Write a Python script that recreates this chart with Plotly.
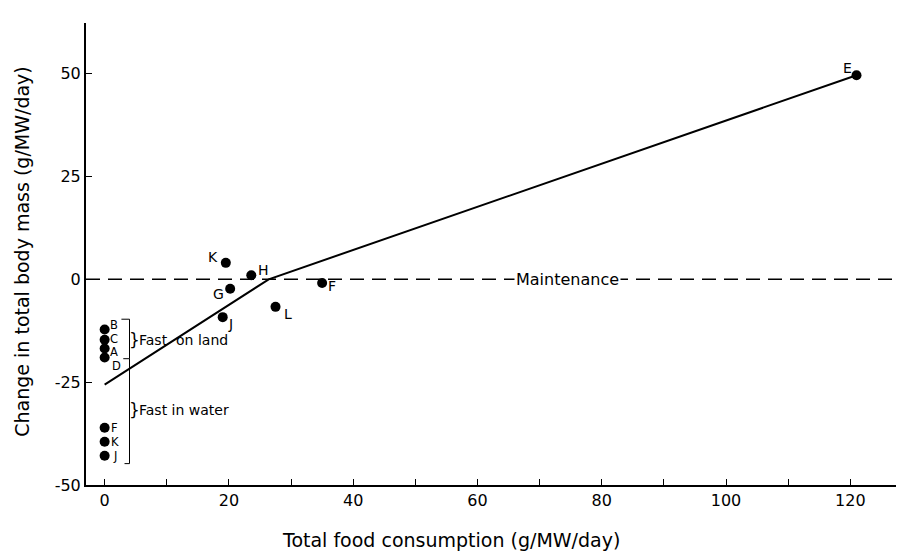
import plotly.graph_objects as go

# ---- data ----
fed_labels = ["E", "K", "H", "G", "J", "L", "F"]
fed_x = [121, 19.5, 23.6, 20.2, 19.0, 27.5, 35.0]
fed_y = [49.6, 4.0, 1.0, -2.3, -9.2, -6.7, -0.9]

fast_labels = ["B", "C", "A", "D", "F", "K", "J"]
fast_x = [0, 0, 0, 0, 0, 0, 0]
fast_y = [-12.2, -14.7, -16.8, -19.0, -36.1, -39.5, -42.9]

fit_x = [0, 26.4, 121]
fit_y = [-25.6, 0, 49.6]

x_ticks = [0, 20, 40, 60, 80, 100, 120]
y_ticks = [-50, -25, 0, 25, 50]
y_ticktext = ["-50", "-25", "0", "25", "50"]

FONT = "DejaVu Sans"

fig = go.Figure()
fig.add_trace(go.Scatter(x=fit_x, y=fit_y, mode="lines",
                         line=dict(color="black", width=2), hoverinfo="skip"))
fig.add_trace(go.Scatter(x=fed_x + fast_x, y=fed_y + fast_y, mode="markers",
                         marker=dict(color="black", size=10)))

# point labels (offsets in px)
fed_off = {"E": (-9, 7), "K": (-13, 6), "H": (12, 5), "G": (-12, -5),
           "J": (8, -7), "L": (12, -7), "F": (10, -3)}
for lab, x, y in zip(fed_labels, fed_x, fed_y):
    dx, dy = fed_off[lab]
    fig.add_annotation(x=x, y=y, text=lab, showarrow=False, xshift=dx, yshift=dy,
                       font=dict(family=FONT, size=14, color="black"))
fast_off = {"B": (9, 4), "C": (9, 0.5), "A": (9, -4), "D": (12, -8.5),
            "F": (10, 0), "K": (10, 0), "J": (10, 0)}
for lab, x, y in zip(fast_labels, fast_x, fast_y):
    dx, dy = fast_off[lab]
    fig.add_annotation(x=x, y=y, text=lab, showarrow=False, xshift=dx, yshift=dy,
                       font=dict(family=FONT, size=11.5, color="black"))

# maintenance line
fig.add_shape(type="line", x0=-3, x1=128, y0=0, y1=0, xref="x", yref="y",
              line=dict(color="black", width=1.5, dash="14px,8px"), layer="below")
fig.add_annotation(x=74.5, y=0, text="Maintenance", showarrow=False,
                   bgcolor="white", font=dict(family=FONT, size=16, color="black"))

# brackets
bx = 4.0
fig.add_shape(type="path", path=f"M 2.7,-9.7 L {bx},-9.7 L {bx},-19.3 L 3.0,-19.3",
              line=dict(color="black", width=1))
fig.add_shape(type="path", path=f"M {bx},-19.3 L {bx},-44.8 L 3.2,-44.8",
              line=dict(color="black", width=1))
fig.add_annotation(x=bx, y=-14.8, text="}", showarrow=False, xanchor="left", xshift=-3,
                   font=dict(family=FONT, size=17, color="black"))
fig.add_annotation(x=bx, y=-31.8, text="}", showarrow=False, xanchor="left", xshift=-3,
                   font=dict(family=FONT, size=17, color="black"))
fig.add_annotation(x=bx, y=-14.8, text="Fast  on land", showarrow=False, xanchor="left",
                   xshift=7, font=dict(family=FONT, size=14, color="black"))
fig.add_annotation(x=bx, y=-31.8, text="Fast in water", showarrow=False, xanchor="left",
                   xshift=7, font=dict(family=FONT, size=14, color="black"))

# axis titles
fig.add_annotation(xref="paper", yref="paper", x=0.448, y=-0.119,
                   xanchor="center", yanchor="middle",
                   text="Total food consumption (g/MW/day)", showarrow=False,
                   font=dict(family=FONT, size=19, color="black"))
fig.add_annotation(xref="paper", yref="paper", x=-0.0786, y=0.505, textangle=-90,
                   xanchor="center", yanchor="middle",
                   text="Change in total body mass (g/MW/day)", showarrow=False,
                   font=dict(family=FONT, size=19, color="black"))

# page body has an 8px margin; shrink the figure accordingly
fig.update_layout(
    width=896, height=546, showlegend=False,
    paper_bgcolor="white", plot_bgcolor="white",
    margin=dict(l=78, r=4, t=15, b=69),
    font=dict(family=FONT, color="black"),
    xaxis=dict(range=[-3, 128], tickvals=x_ticks, ticks="inside", ticklen=6,
               tickcolor="black", showline=True, linecolor="black", linewidth=2,
               showgrid=False, zeroline=False, automargin=False,
               minor=dict(dtick=10, tick0=0, ticks="inside", ticklen=6, tickcolor="black"),
               tickfont=dict(family=FONT, size=16)),
    yaxis=dict(range=[-50, 62.3], tickvals=y_ticks, ticktext=y_ticktext,
               ticks="inside", ticklen=6,
               tickcolor="black", showline=True, linecolor="black", linewidth=2,
               showgrid=False, zeroline=False, automargin=False,
               tickfont=dict(family=FONT, size=16)),
)

fig.write_html("out.html")
